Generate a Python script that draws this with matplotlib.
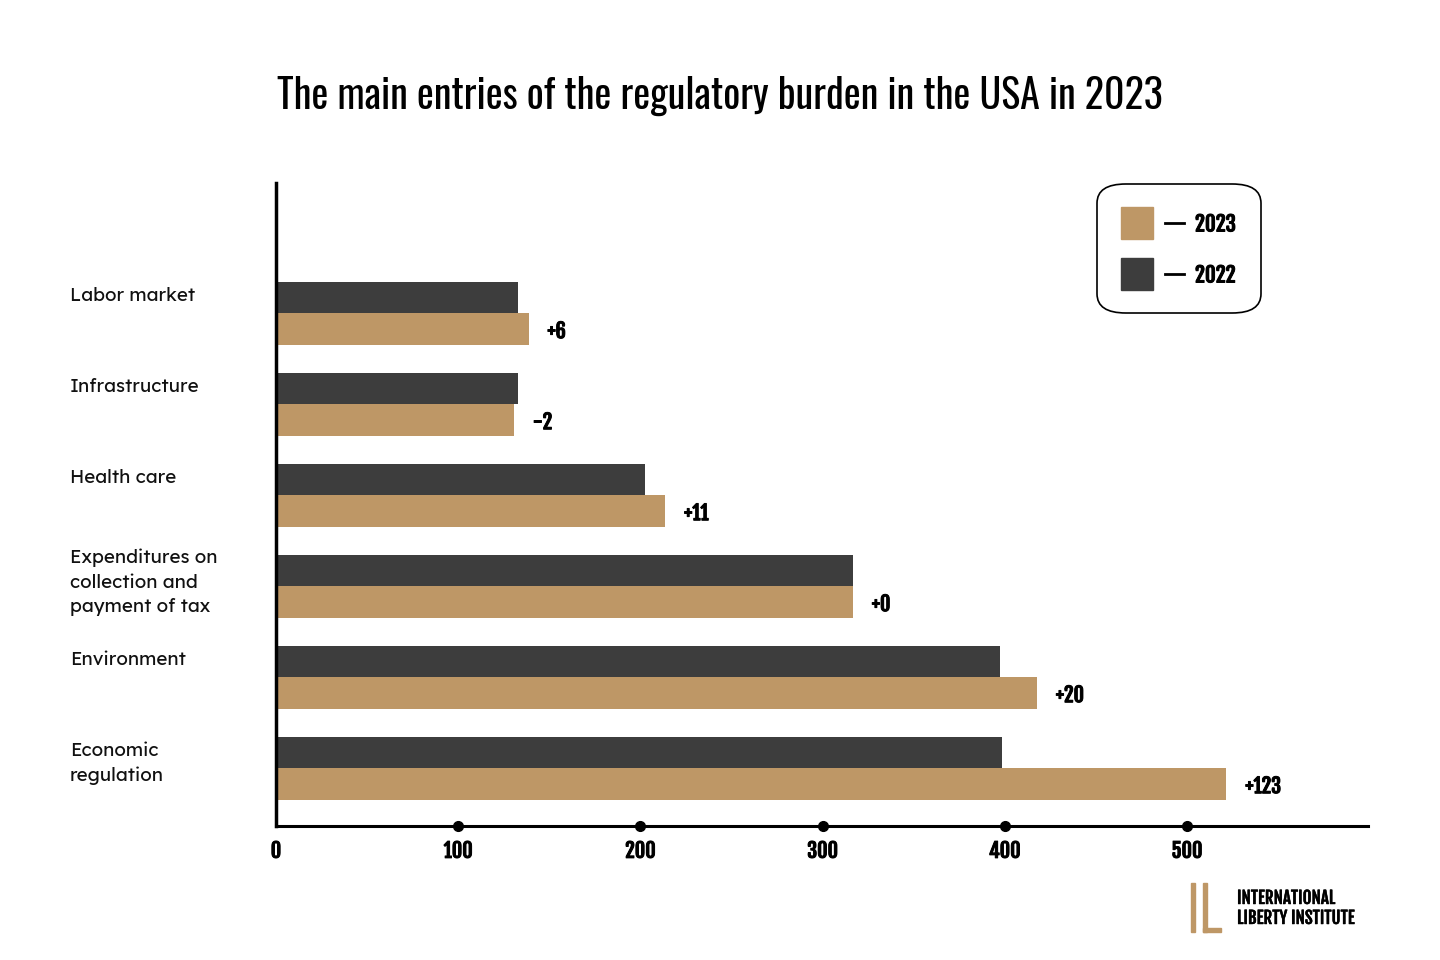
import matplotlib
matplotlib.use("Agg")
import matplotlib.pyplot as plt
import matplotlib.transforms as mtransforms
import matplotlib.patheffects as pe
from matplotlib.patches import FancyBboxPatch, Rectangle
import numpy as np

categories = ["Labor market", "Infrastructure", "Health care",
              "Expenditures on\ncollection and\npayment of tax",
              "Environment", "Economic\nregulation"]
values_2022 = [132, 132, 202, 316, 397, 398]
values_2023 = [138, 130, 213, 316, 417, 521]
changes = ["+6", "-2", "+11", "+0", "+20", "+123"]
xticks = [0, 100, 200, 300, 400, 500]

GOLD = "#BE9766"
DARK = "#3D3D3D"
TITLE = ["Oswald", "DejaVu Sans"]
BOLDN = ["Fjalla One", "DejaVu Sans"]
LABEL = ["Lexend", "DejaVu Sans"]
heavy = [pe.withStroke(linewidth=0.7, foreground="black")]

W, H = 1440, 960
fig = plt.figure(figsize=(14.4, 9.6), dpi=100)
ax = fig.add_axes([276 / W, 1 - 826 / H, (1368 - 276) / W, (826 - 183) / H])

y = np.arange(len(categories))
h = 0.35
ax.barh(y - h / 2, values_2022, height=h, color=DARK, left=0.6)
ax.barh(y + h / 2, values_2023, height=h, color=GOLD, left=0.6)

ax.set_xlim(0, 599.3)
ax.set_ylim(5.632, -1.434)

for s in ["top", "right"]:
    ax.spines[s].set_visible(False)
ax.spines["left"].set_linewidth(2.5)
ax.spines["bottom"].set_linewidth(2.2)
ax.set_yticks([])
ax.set_xticks(xticks)
ax.tick_params(axis="x", length=0, pad=10)
for lab in ax.get_xticklabels():
    lab.set_fontfamily(BOLDN)
    lab.set_fontsize(14.5)
    lab.set_path_effects(heavy)
ax.plot(xticks[1:], [5.632] * 5, "o", color="black", ms=7, clip_on=False, zorder=5)

# category labels: x in figure, y in data (taller labels sit a bit higher)
trans = mtransforms.blended_transform_factory(fig.transFigure, ax.transData)
for i, c in enumerate(categories):
    lift = 0.12 if c.count("\n") > 1 else 0
    ax.text(70 / W, i - h + 0.055 - lift, c, transform=trans, ha="left", va="top",
            fontsize=13.5, family=LABEL, linespacing=1.45, color="#111111")

# change labels
for i, (v, c) in enumerate(zip(values_2023, changes)):
    ax.text(v + 11, i + h / 2 + 0.02, c, ha="left", va="center", fontsize=14.5,
            family=BOLDN, path_effects=heavy)

fig.text(720 / W, 1 - 96 / H, "The main entries of the regulatory burden in the USA in 2023",
         ha="center", va="center", fontsize=28.8, family=TITLE)

# legend box
fig.add_artist(FancyBboxPatch((1097 / W, 1 - 313 / H), (1261 - 1097) / W, (313 - 184) / H,
                              boxstyle="round,pad=0,rounding_size=0.02", transform=fig.transFigure,
                              facecolor="white", edgecolor="black", lw=1.2))
for col, yy, txt in [(GOLD, 223, "2023"), (DARK, 274, "2022")]:
    fig.add_artist(Rectangle((1121 / W, 1 - (yy + 16) / H), 32 / W, 32 / H,
                             transform=fig.transFigure, color=col))
    fig.add_artist(plt.Line2D([1165 / W, 1184 / W], [1 - yy / H, 1 - yy / H],
                              transform=fig.transFigure, color="black", lw=2))
    fig.text(1195 / W, 1 - (yy + 1.5) / H, txt, ha="left", va="center", fontsize=15,
             family=BOLDN, path_effects=heavy)

# logo
for x0, y0, w0, h0 in [(1191, 883, 3.5, 49), (1203, 883, 3.5, 49), (1203, 928, 18, 4)]:
    fig.add_artist(Rectangle((x0 / W, 1 - (y0 + h0) / H), w0 / W, h0 / H,
                             transform=fig.transFigure, color=GOLD))
fig.text(1237 / W, 1 - 898 / H, "INTERNATIONAL", ha="left", va="center", fontsize=12.3,
         family=BOLDN, path_effects=[pe.withStroke(linewidth=0.35, foreground="black")])
fig.text(1237 / W, 1 - 918 / H, "LIBERTY INSTITUTE", ha="left", va="center", fontsize=12.3,
         family=BOLDN, path_effects=[pe.withStroke(linewidth=0.35, foreground="black")])

fig.savefig("out.png", dpi=100)
